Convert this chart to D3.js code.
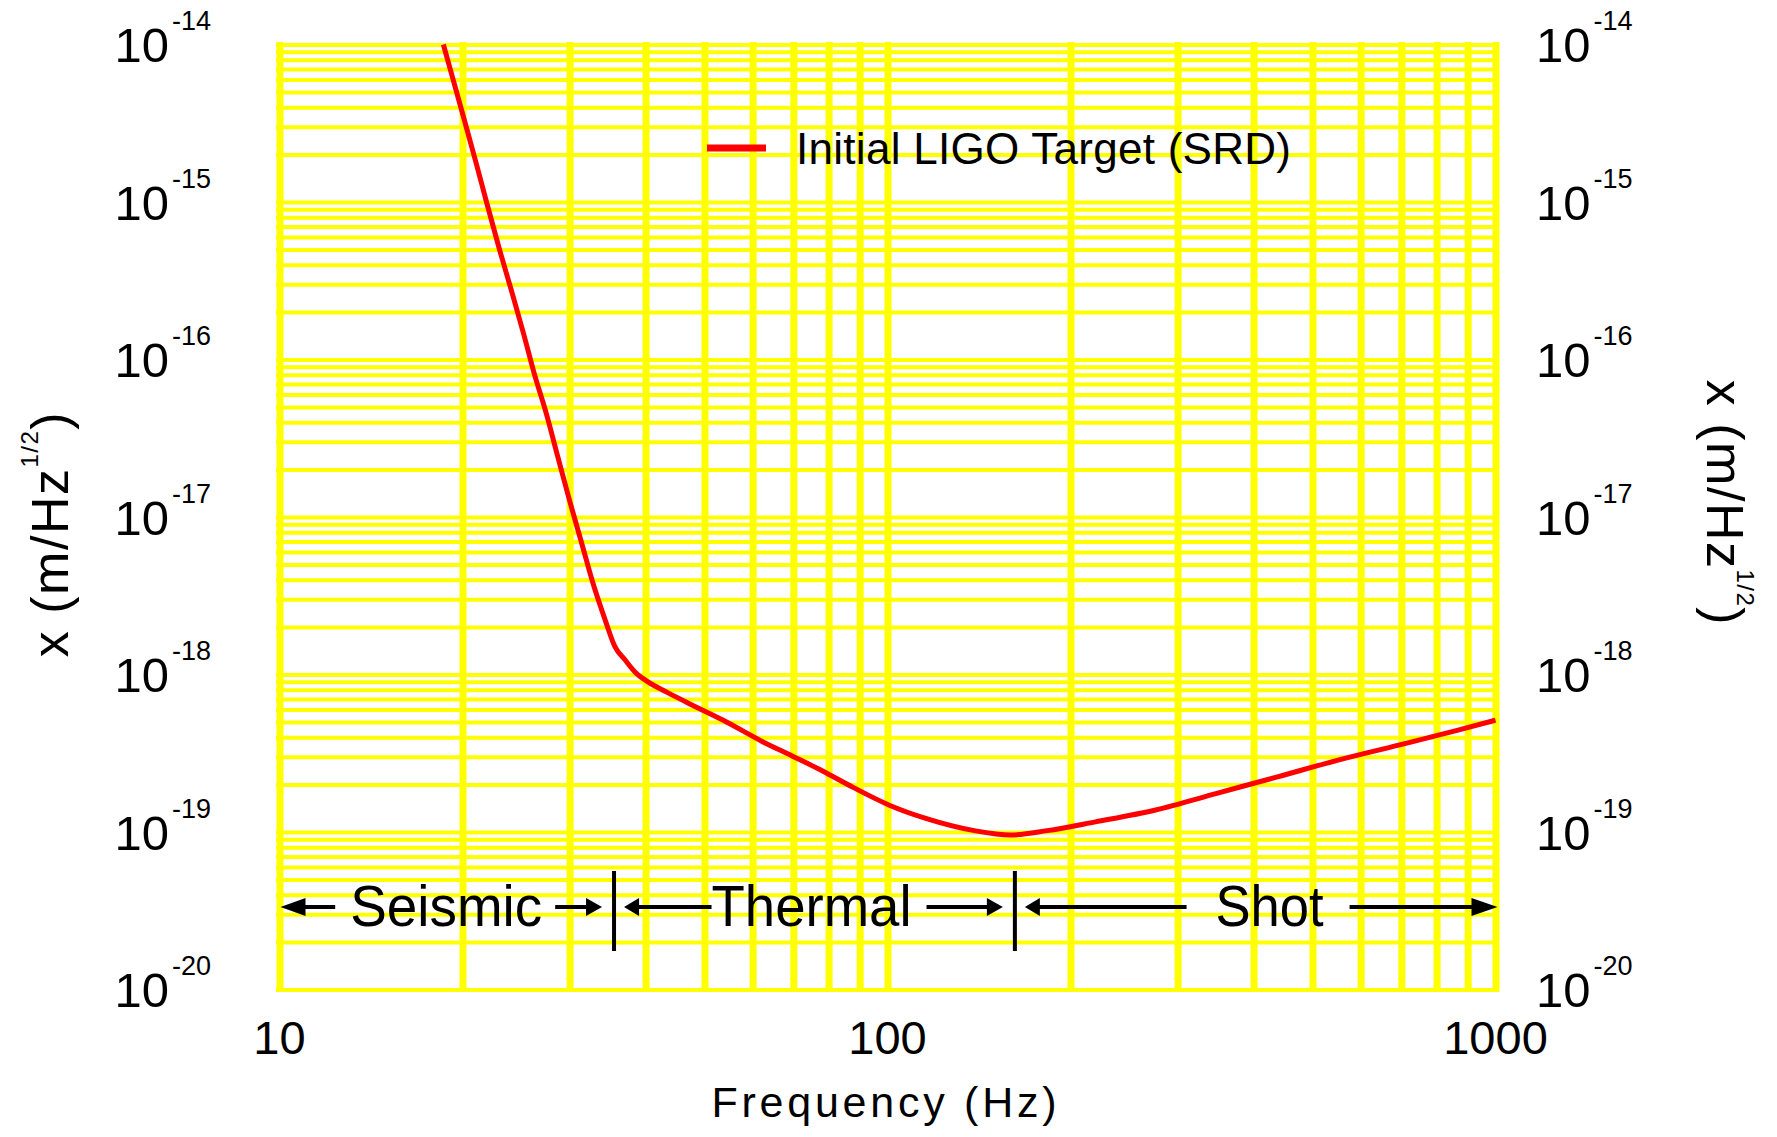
<!DOCTYPE html>
<html>
<head>
<meta charset="utf-8">
<script src="https://cdn.jsdelivr.net/npm/d3@7"></script>
<style>
  html, body { margin: 0; padding: 0; background: #ffffff; }
  svg { display: block; font-family: "Liberation Sans", Arial, Helvetica, sans-serif; }
</style>
</head>
<body>
<svg id="chart" width="1777" height="1137"></svg>
<script>
// Initial LIGO target displacement noise, x(f) in m/Hz^1/2
const frequencyHz = [
  18.6, 19.2, 20.1, 21.0, 21.9, 23.0, 24.1, 25.2, 26.2, 27.5,
  28.7, 30.0, 31.4, 32.8, 34.3, 35.6, 37.0, 38.6, 40.5, 43.5,
  47.5, 53.5, 62.2, 69.8, 78.2, 87.8, 100.7, 115.6, 138.9, 159.4,
  183, 219.8, 276, 348, 438, 551, 693, 871, 1000
];
const displacement = [
  1.0e-14, 6.44e-15, 3.40e-15, 1.84e-15, 1.00e-15, 5.01e-16, 2.69e-16, 1.46e-16, 8.32e-17, 4.47e-17,
  2.40e-17, 1.27e-17, 6.84e-18, 3.77e-18, 2.24e-18, 1.51e-18, 1.24e-18, 1.02e-18, 8.91e-19, 7.67e-19,
  6.46e-19, 5.16e-19, 3.76e-19, 3.03e-19, 2.44e-19, 1.92e-19, 1.48e-19, 1.22e-19, 1.02e-19, 9.57e-20,
  1.02e-19, 1.16e-19, 1.38e-19, 1.76e-19, 2.24e-19, 2.86e-19, 3.56e-19, 4.45e-19, 5.13e-19
];

// Axis labels
const xTickValues = [10, 100, 1000];
const yExponents = [-14, -15, -16, -17, -18, -19, -20];
const xTitle = "Frequency (Hz)";
const legendLabel = "Initial LIGO Target (SRD)";

// Noise-regime bands along the bottom of the plot
const bandEdgesHz = [10, 35.5, 162, 1000];
const bandNames = ["Seismic", "Thermal", "Shot"];
const bandLabelHz = [18.8, 75.0, 425];

const svg = d3.select("#chart");
const plot = { left: 279.5, right: 1495.5, top: 44.5, bottom: 989.5 };

const x = d3.scaleLog().domain([10, 1000]).range([plot.left, plot.right]);
const y = d3.scaleLog().domain([1e-20, 1e-14]).range([plot.bottom, plot.top]);

const YELLOW = "#ffff00";
const RED = "#ff0000";

// ---- grid (yellow), drawn with axes whose ticks span the plot ----
const hGrid = svg.append("g")
  .attr("transform", `translate(${plot.left - 3.5},0)`)
  .call(d3.axisLeft(y).tickValues(y.ticks()).tickFormat("")
        .tickSize(-(plot.right - plot.left + 7)).tickSizeOuter(0));
hGrid.select(".domain").remove();
hGrid.selectAll(".tick line").attr("stroke", YELLOW).attr("stroke-width", 4);

const vGrid = svg.append("g")
  .attr("transform", `translate(0,${plot.bottom + 2.5})`)
  .call(d3.axisBottom(x).tickValues(x.ticks()).tickFormat("")
        .tickSize(-(plot.bottom - plot.top + 5)).tickSizeOuter(0));
vGrid.select(".domain").remove();
vGrid.selectAll(".tick line").attr("stroke", YELLOW).attr("stroke-width", 7);

// ---- noise curve ----
svg.append("clipPath").attr("id", "plot-clip")
  .append("rect")
  .attr("x", plot.left).attr("y", plot.top - 2)
  .attr("width", plot.right - plot.left + 4).attr("height", plot.bottom - plot.top + 2);

const curveData = frequencyHz.map((f, i) => [f, displacement[i]]);
const line = d3.line()
  .x(d => x(d[0]))
  .y(d => y(d[1]))
  .curve(d3.curveMonotoneX);

svg.append("path")
  .datum(curveData)
  .attr("clip-path", "url(#plot-clip)")
  .attr("fill", "none")
  .attr("stroke", RED)
  .attr("stroke-width", 5)
  .attr("stroke-linejoin", "round")
  .attr("d", line);

// ---- legend ----
svg.append("line")
  .attr("x1", 707).attr("x2", 766).attr("y1", 148).attr("y2", 148)
  .attr("stroke", RED).attr("stroke-width", 7);
svg.append("text")
  .attr("x", 796).attr("y", 163.5)
  .attr("font-size", 44)
  .attr("textLength", 495)
  .attr("lengthAdjust", "spacing")
  .attr("fill", "#000")
  .text(legendLabel);

// ---- band annotation: arrows, separators and names ----
const annY = 907;
const labelWidths = [192, 200, 108];
const labelGaps = [[15, 13], [0, 15], [29, 26]];
const ann = svg.append("g");

function arrowHead(tipX, dir, len) {
  // dir = -1 points left, +1 points right
  const baseX = tipX - dir * len;
  return `M${tipX},${annY} L${baseX},${annY - 9} L${baseX},${annY + 9} Z`;
}

bandNames.forEach((name, i) => {
  const x0 = x(bandEdgesHz[i]);
  const x1 = x(bandEdgesHz[i + 1]);
  const outer0 = i === 0;
  const outer1 = i === bandNames.length - 1;
  const len0 = outer0 ? 25 : 15;
  const len1 = outer1 ? 26 : 16;
  const tip0 = outer0 ? x0 + 1 : x0 + 10;
  const tip1 = outer1 ? x1 + 2 : x1 - 12;
  const cx = x(bandLabelHz[i]);
  const w = labelWidths[i];
  const tl = cx - w / 2, tr = cx + w / 2;

  ann.append("path").attr("d", arrowHead(tip0, -1, len0)).attr("fill", "#000");
  ann.append("path").attr("d", arrowHead(tip1, 1, len1)).attr("fill", "#000");

  ann.append("line")
    .attr("x1", tip0 + len0 - 1).attr("x2", tl - labelGaps[i][0])
    .attr("y1", annY).attr("y2", annY)
    .attr("stroke", "#000").attr("stroke-width", 4);
  ann.append("line")
    .attr("x1", tr + labelGaps[i][1]).attr("x2", tip1 - len1 + 1)
    .attr("y1", annY).attr("y2", annY)
    .attr("stroke", "#000").attr("stroke-width", 4);

  ann.append("text")
    .attr("x", tl).attr("y", 926)
    .attr("font-size", 58)
    .attr("textLength", w)
    .attr("lengthAdjust", "spacingAndGlyphs")
    .attr("fill", "#000")
    .text(name);
});

// separators between the regimes
ann.selectAll("line.sep")
  .data(bandEdgesHz.slice(1, -1))
  .join("line")
  .attr("class", "sep")
  .attr("x1", d => x(d)).attr("x2", d => x(d))
  .attr("y1", 871).attr("y2", 951)
  .attr("stroke", "#000").attr("stroke-width", 4);

// ---- y tick labels (both sides) ----
function powerLabel(g, xPos, anchor, e) {
  const t = g.append("text")
    .attr("x", xPos)
    .attr("y", y(Math.pow(10, e)) + 17.5)
    .attr("text-anchor", anchor)
    .attr("fill", "#000");
  t.append("tspan").attr("font-size", 49).text("10");
  t.append("tspan").attr("font-size", 27).attr("dy", -32).attr("dx", 3).text(`-${Math.abs(e)}`);
}
const yLabels = svg.append("g");
yExponents.forEach(e => {
  powerLabel(yLabels, 211, "end", e);
  powerLabel(yLabels, 1536, "start", e);
});

// ---- x tick labels ----
svg.append("g")
  .selectAll("text")
  .data(xTickValues)
  .join("text")
  .attr("x", d => x(d))
  .attr("y", 1054)
  .attr("text-anchor", "middle")
  .attr("font-size", 47)
  .attr("fill", "#000")
  .text(d => d3.format("d")(d));

// ---- axis titles ----
svg.append("text")
  .attr("x", 884).attr("y", 1117)
  .attr("text-anchor", "middle")
  .attr("font-size", 43)
  .attr("textLength", 345)
  .attr("lengthAdjust", "spacing")
  .attr("fill", "#000")
  .text(xTitle);

function unitTitle(tx, ty, angle) {
  const t = svg.append("text")
    .attr("transform", `translate(${tx},${ty}) rotate(${angle})`)
    .attr("text-anchor", "middle")
    .attr("font-size", 52)
    .attr("letter-spacing", 1.5)
    .attr("fill", "#000");
  t.append("tspan").text("x (m/Hz");
  t.append("tspan").attr("font-size", 24).attr("dy", -30).text("1/2");
  t.append("tspan").attr("dy", 30).text(")");
}
unitTitle(68, 534, -90);
unitTitle(1707, 503, 90);
</script>
</body>
</html>
